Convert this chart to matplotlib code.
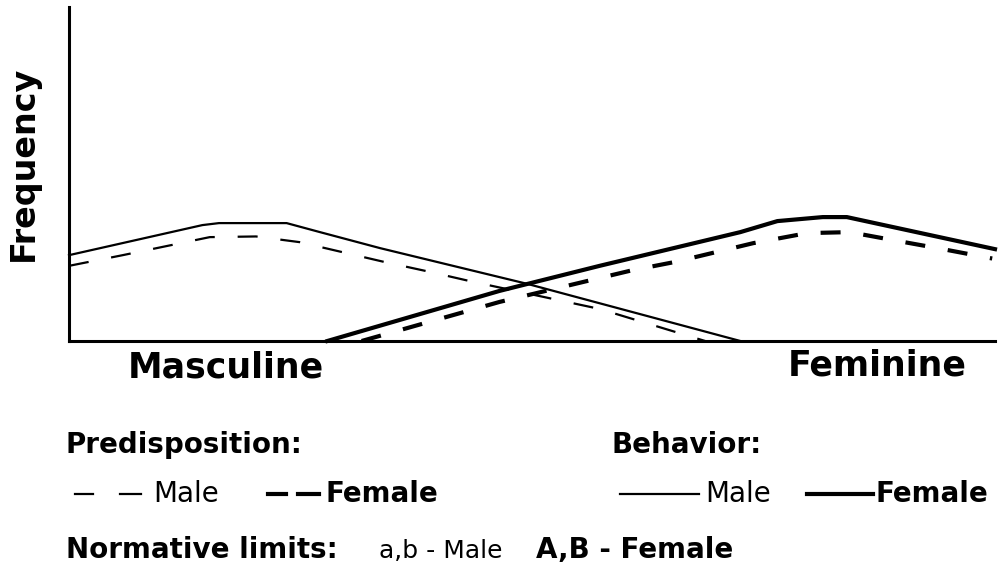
import matplotlib.pyplot as plt
from matplotlib.lines import Line2D

plt.rcParams['font.family'] = ['DejaVu Sans']

# curves on a 0-100 scale (x: masculine -> feminine, y: frequency)
male_beh_x = [0, 14.4, 16.2, 23.5, 27.1, 33.6, 49.5, 72.5]
male_beh_y = [25.7, 34.7, 35.3, 35.3, 32.6, 27.8, 17.1, 0.0]

male_pre_x = [0, 5.8, 15.2, 20.2, 24.9, 34.0, 38.8, 43.5, 57.3, 68.7]
male_pre_y = [22.5, 25.7, 31.1, 31.3, 29.6, 23.7, 20.8, 17.8, 9.6, 0.0]

fem_beh_x = [27.9, 46.5, 57.3, 72.5, 76.5, 81.4, 84.0, 100.0]
fem_beh_y = [0.0, 15.0, 22.5, 32.6, 35.9, 37.1, 37.1, 27.5]

fem_pre_x = [31.6, 46.5, 60.7, 65.5, 73.9, 79.7, 84.3, 89.0, 93.8, 99.7]
fem_pre_y = [0.0, 11.7, 21.1, 23.7, 29.3, 32.3, 32.6, 30.2, 27.8, 24.7]

W, H = 998, 571
fig = plt.figure(figsize=(W / 100, H / 100), dpi=100)
ax = fig.add_axes([69 / W, 1 - 341 / H, (995 - 69) / W, (341 - 7) / H])

thin, thick = 1.6, 3.0
thin_dash = (0, (9.0, 10.3))
thick_dash = (0, (4.8, 5.5))

ax.plot(male_beh_x, male_beh_y, color='black', lw=thin, clip_on=False)
ax.plot(male_pre_x, male_pre_y, color='black', lw=thin, ls=thin_dash, clip_on=False)
ax.plot(fem_beh_x, fem_beh_y, color='black', lw=thick, clip_on=False, solid_joinstyle='round')
ax.plot(fem_pre_x, fem_pre_y, color='black', lw=thick, ls=thick_dash, clip_on=False)

ax.set_xlim(0, 100)
ax.set_ylim(0, 100)
for s in ['top', 'right']:
    ax.spines[s].set_visible(False)
ax.spines['left'].set_linewidth(2.2)
ax.spines['bottom'].set_linewidth(2.2)
ax.set_xticks([])
ax.set_yticks([])


def px(x, y):
    return x / W, 1 - y / H


fig.text(*px(23, 163), 'Frequency', rotation=90, ha='center', va='center',
         fontsize=24, fontweight='bold')
fig.text(*px(226, 378), 'Masculine', ha='center', va='baseline', fontsize=25, fontweight='bold')
fig.text(*px(877, 375), 'Feminine', ha='center', va='baseline', fontsize=25, fontweight='bold')

fs = 20
fig.text(*px(66, 453), 'Predisposition:', ha='left', va='baseline', fontsize=fs, fontweight='bold')
fig.text(*px(611, 453), 'Behavior:', ha='left', va='baseline', fontsize=fs, fontweight='bold')


def sample(x0, x1, y, lw, ls):
    fig.add_artist(Line2D([x0 / W, x1 / W], [1 - y / H, 1 - y / H], color='black',
                          lw=lw, ls=ls, transform=fig.transFigure))


row2 = 502
sample(75, 93, row2 - 8, thin, '-')
sample(120, 141, row2 - 8, thin, '-')
fig.text(*px(153, row2), 'Male', ha='left', va='baseline', fontsize=fs)
sample(268, 286, row2 - 8, thick, '-')
sample(298, 319, row2 - 8, thick, '-')
fig.text(*px(325, row2), 'Female', ha='left', va='baseline', fontsize=fs, fontweight='bold')

sample(620, 699, row2 - 8, thin, '-')
fig.text(*px(705, row2), 'Male', ha='left', va='baseline', fontsize=fs)
sample(807, 873, row2 - 8, thick, '-')
fig.text(*px(876, row2), 'Female', ha='left', va='baseline', fontsize=fs, fontweight='bold')

row3 = 558
fig.text(*px(66, row3), 'Normative limits:', ha='left', va='baseline', fontsize=fs, fontweight='bold')
fig.text(*px(379, row3), 'a,b - Male', ha='left', va='baseline', fontsize=18)
fig.text(*px(536, row3), 'A,B - Female', ha='left', va='baseline', fontsize=fs, fontweight='bold')

fig.savefig('out.png', dpi=100)
